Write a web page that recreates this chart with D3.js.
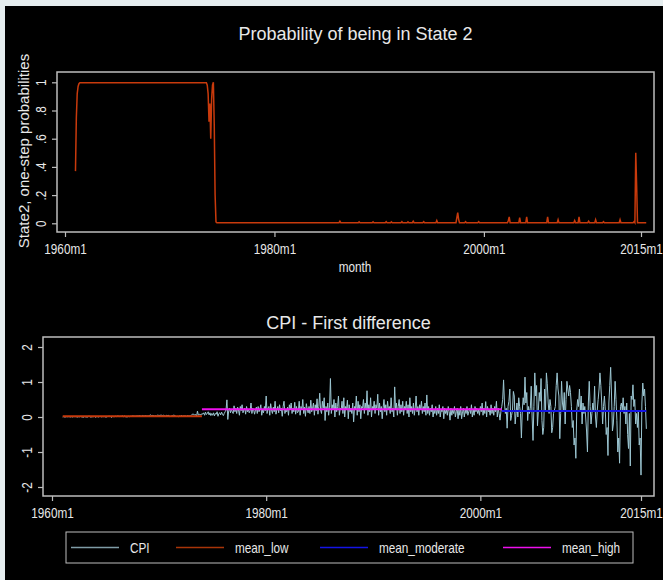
<!DOCTYPE html>
<html>
<head>
<meta charset="utf-8">
<script src="https://cdn.jsdelivr.net/npm/d3@7"></script>
<style>
  body { margin: 0; background: #e6eef0; }
  svg { display: block; }
  text { font-family: "Liberation Sans", Arial, sans-serif; fill: #e8e8e8; }
</style>
</head>
<body>
<div id="chart"></div>
<script>
// ---- data (months are Stata %tm strings) ----
const xTickDates = ["1960m1", "1980m1", "2000m1", "2015m1"];
const probTicks = [0, 0.2, 0.4, 0.6, 0.8, 1];
const probTickLabels = ["0", ".2", ".4", ".6", ".8", "1"];
const cpiTicks = [-2, -1, 0, 1, 2];

// probability of being in state 2 (vertices of the drawn line)
const probPoints = [
  ["1961m1", 0.37], ["1961m2", 0.75], ["1961m3", 0.92], ["1961m4", 0.97], ["1961m5", 0.99], ["1961m6", 0.997],
  ["1973m7", 0.997], ["1973m8", 0.98], ["1973m9", 0.92], ["1973m10", 0.72], ["1973m11", 0.85], ["1973m12", 0.60],
  ["1974m1", 0.88], ["1974m2", 0.98], ["1974m3", 1.0], ["1974m4", 0.70], ["1974m5", 0.20], ["1974m6", 0.01],
  ["1974m7", 0.004],
  ["1986m3", 0.004], ["1986m4", 0.015], ["1986m5", 0.004],
  ["1988m1", 0.004], ["1988m2", 0.010], ["1988m3", 0.004],
  ["1989m5", 0.004], ["1989m6", 0.010], ["1989m7", 0.004],
  ["1990m8", 0.004], ["1990m9", 0.012], ["1990m10", 0.004],
  ["1991m2", 0.004], ["1991m3", 0.010], ["1991m4", 0.004],
  ["1992m2", 0.004], ["1992m3", 0.012], ["1992m4", 0.004],
  ["1992m9", 0.004], ["1992m10", 0.010], ["1992m11", 0.004],
  ["1993m3", 0.004], ["1993m4", 0.015], ["1993m5", 0.004],
  ["1994m3", 0.004], ["1994m4", 0.012], ["1994m5", 0.004],
  ["1995m6", 0.004], ["1995m7", 0.020], ["1995m8", 0.004],
  ["1997m5", 0.004], ["1997m6", 0.040], ["1997m7", 0.075], ["1997m8", 0.030], ["1997m9", 0.004],
  ["1998m3", 0.004], ["1998m4", 0.012], ["1998m5", 0.004],
  ["1999m6", 0.004], ["1999m7", 0.012], ["1999m8", 0.004],
  ["2002m4", 0.004], ["2002m5", 0.020], ["2002m6", 0.045], ["2002m7", 0.004],
  ["2003m5", 0.004], ["2003m6", 0.040], ["2003m7", 0.004],
  ["2004m1", 0.004], ["2004m2", 0.045], ["2004m3", 0.004],
  ["2006m1", 0.004], ["2006m2", 0.045], ["2006m3", 0.004],
  ["2007m1", 0.004], ["2007m2", 0.025], ["2007m3", 0.004],
  ["2008m8", 0.004], ["2008m9", 0.020], ["2008m10", 0.004],
  ["2009m1", 0.004], ["2009m2", 0.045], ["2009m3", 0.004],
  ["2009m12", 0.004], ["2010m1", 0.015], ["2010m2", 0.004],
  ["2010m8", 0.004], ["2010m9", 0.025], ["2010m10", 0.004],
  ["2011m5", 0.004], ["2011m6", 0.012], ["2011m7", 0.004],
  ["2012m12", 0.004], ["2013m1", 0.025], ["2013m2", 0.004],
  ["2014m4", 0.004], ["2014m5", 0.012], ["2014m6", 0.004],
  ["2014m7", 0.50], ["2014m8", 0.27], ["2014m9", 0.004],
  ["2015m7", 0.004]
];

// CPI first difference, monthly from 1961m1 to 2015m7
const cpiStart = "1961m1";
const cpiDiff = [
  0.00, 0.01, 0.00, 0.00, 0.01, 0.00, 0.02, 0.00, 0.01, 0.00, 0.01, 0.00,   // 1961
  0.01, 0.01, 0.01, 0.01, 0.00, 0.00, 0.01, 0.00, 0.03, 0.00, 0.00, -0.01,  // 1962
  0.01, 0.01, 0.00, 0.00, 0.00, 0.02, 0.02, 0.00, 0.00, 0.01, 0.00, 0.02,   // 1963
  0.01, -0.01, 0.01, 0.01, 0.00, 0.01, 0.02, 0.00, 0.01, 0.01, 0.01, 0.01,  // 1964
  0.00, 0.00, 0.01, 0.02, 0.01, 0.03, 0.00, -0.01, 0.02, 0.01, 0.01, 0.02,  // 1965
  0.01, 0.03, 0.01, 0.03, 0.01, 0.02, 0.02, 0.03, 0.01, 0.03, 0.01, 0.01,   // 1966
  0.00, 0.01, 0.02, 0.01, 0.02, 0.02, 0.03, 0.03, 0.02, 0.03, 0.02, 0.03,   // 1967
  0.03, 0.03, 0.04, 0.03, 0.02, 0.04, 0.03, 0.03, 0.03, 0.04, 0.03, 0.03,   // 1968
  0.03, 0.04, 0.06, 0.05, 0.03, 0.05, 0.04, 0.03, 0.04, 0.03, 0.05, 0.05,   // 1969
  0.04, 0.05, 0.05, 0.05, 0.04, 0.05, 0.04, 0.02, 0.05, 0.04, 0.04, 0.05,   // 1970
  0.01, 0.02, 0.03, 0.04, 0.05, 0.05, 0.03, 0.02, 0.01, 0.02, 0.01, 0.03,   // 1971
  0.02, 0.05, 0.02, 0.03, 0.03, 0.03, 0.03, 0.02, 0.04, 0.03, 0.03, 0.03,   // 1972
  0.05, 0.07, 0.09, 0.07, 0.06, 0.07, 0.02, 0.17, 0.05, 0.08, 0.07, 0.06,   // 1973
  0.10, 0.08, 0.12, 0.05, 0.14, 0.07, 0.10, 0.15, 0.06, 0.12, 0.04, 0.10,   // 1974
  0.05, 0.12, 0.03, 0.10, 0.08, 0.15, 0.02, 0.10, 0.12, 0.06, 0.14, 0.08,   // 1975
  0.04, 0.10, 0.15, 0.20, 0.49, -0.07, 0.18, 0.25, 0.12, 0.22, 0.15, 0.10,  // 1976
  0.32, 0.15, 0.25, 0.10, 0.28, 0.20, 0.05, 0.30, 0.18, 0.35, 0.12, 0.20,   // 1977
  0.25, 0.08, 0.30, 0.15, 0.22, 0.12, 0.18, 0.40, 0.10, 0.25, 0.20, 0.08,   // 1978
  0.20, 0.28, 0.10, 0.30, 0.15, 0.22, 0.35, 0.05, 0.20, 0.12, 0.30, 0.18,   // 1979
  0.60, 0.10, 0.25, 0.30, 0.05, 0.38, 0.20, 0.10, 0.28, 0.15, 0.45, 0.08,   // 1980
  0.22, 0.30, 0.12, 0.35, 0.18, 0.25, 0.02, 0.30, 0.45, 0.10, 0.20, 0.15,   // 1981
  0.28, 0.05, 0.35, 0.20, 0.40, 0.10, 0.25, 0.15, 0.42, 0.08, 0.30, 0.12,   // 1982
  0.15, 0.45, 0.05, 0.30, 0.20, 0.50, 0.10, 0.28, 0.02, 0.38, 0.22, 0.12,   // 1983
  0.30, 0.10, 0.48, 0.15, 0.25, 0.40, 0.05, 0.35, 0.18, 0.52, 0.08, 0.30,   // 1984
  0.68, 0.20, 0.10, 0.45, 0.25, 0.55, -0.10, 0.30, 0.15, 0.40, 0.05, 0.28,  // 1985
  1.10, 0.10, 0.35, 0.20, 0.50, 0.00, 0.40, 0.15, 0.30, 0.60, 0.05, 0.25,   // 1986
  0.20, 0.45, 0.10, 0.55, 0.00, 0.30, 0.20, 0.48, -0.05, 0.35, 0.15, 0.25,  // 1987
  0.10, 0.40, -0.14, 0.30, 0.20, 0.60, 0.05, 0.45, 0.15, 0.35, -0.05, 0.30, // 1988
  0.25, 0.50, 0.10, 0.40, 0.20, 0.75, 0.05, 0.35, 0.15, 0.55, 0.00, 0.30,   // 1989
  0.20, 0.45, 0.10, 0.35, 0.25, 0.65, 0.05, 0.40, 0.15, 0.30, -0.05, 0.25,  // 1990
  0.50, 0.15, 0.35, 0.05, 0.45, 0.20, 0.30, 0.10, 0.55, 0.15, 0.25, 0.00,   // 1991
  0.86, 0.20, 0.40, 0.05, 0.30, 0.50, 0.10, 0.35, 0.15, 0.45, 0.05, 0.30,   // 1992
  0.20, 0.45, 0.10, 0.35, 0.00, 0.55, 0.15, 0.30, 0.10, 0.40, 0.05, 0.25,   // 1993
  0.60, 0.15, 0.30, 0.05, 0.35, 0.20, 0.45, 0.10, 0.30, 0.15, 0.40, 0.05,   // 1994
  0.63, 0.10, 0.30, 0.05, 0.25, 0.15, 0.35, 0.00, 0.20, 0.10, 0.30, 0.05,   // 1995
  0.25, 0.10, 0.35, 0.00, 0.20, 0.15, 0.30, -0.05, 0.25, 0.10, 0.20, 0.05,  // 1996
  0.30, 0.15, -0.09, 0.25, 0.05, 0.20, 0.10, 0.30, 0.00, 0.15, 0.25, -0.05, // 1997
  0.20, 0.05, 0.30, -0.05, 0.15, 0.25, 0.00, 0.20, 0.10, 0.30, 0.05, 0.15,  // 1998
  0.25, 0.10, 0.35, 0.00, 0.20, 0.05, 0.30, 0.15, 0.25, 0.10, 0.20, 0.05,   // 1999
  0.30, 0.15, 0.40, 0.05, 0.25, 0.10, 0.44, 0.00, 0.30, 0.15, 0.20, 0.05,   // 2000
  0.35, 0.10, 0.25, 0.05, 0.30, 0.15, 0.45, 0.00, 0.25, 0.10, -0.09, 0.15,  // 2001
  0.30, 0.50, 1.06, 0.40, 0.10, 0.25, -0.32, 0.30, 0.45, 0.80, -0.10, 0.05, // 2002
  0.20, 0.73, 0.60, -0.20, 0.10, 0.40, 0.00, 0.55, 0.30, 0.10, -0.60, 0.20, // 2003
  0.55, 0.35, 1.14, 0.40, 0.70, -0.10, 0.30, 0.10, 0.25, 0.88, 0.00, -0.67, // 2004
  0.30, 1.26, 0.60, 0.90, -0.25, 0.20, 0.70, 0.45, 1.10, -0.10, -0.50, -0.30, // 2005
  0.80, 0.20, 1.26, 0.95, 0.40, 0.10, 0.50, 0.30, -0.45, -0.30, 0.10, 0.20, // 2006
  0.30, 0.90, 1.26, 0.80, 0.60, -0.62, 0.10, 1.02, 0.40, 0.20, 0.70, -0.20, // 2007
  0.50, 1.02, 0.80, 0.60, 0.90, 0.70, 0.30, -0.30, -0.10, -0.80, -0.60, -1.18, // 2008
  0.20, 0.50, 0.30, 0.80, 0.20, 0.60, -0.20, 0.40, 0.10, 0.30, 0.00, -0.40, // 2009
  -1.00, 0.40, 1.02, 0.30, -0.20, 0.10, 0.40, 0.20, 0.88, 0.00, -0.30, 0.20, // 2010
  0.50, 0.80, 1.26, 0.90, 0.40, -0.20, 0.30, 0.60, 0.20, -0.50, -0.30, -1.10, // 2011
  0.40, 0.90, 1.42, 0.60, -0.40, -0.20, 0.30, 1.02, 0.50, -0.10, -1.00, -0.60, // 2012
  -1.32, 0.30, 0.40, 0.20, 0.55, 0.10, 0.30, -0.20, 0.40, -0.50, -0.90, 0.10, // 2013
  -1.40, 0.60, 0.50, 0.92, 0.30, 0.50, -0.20, 0.10, -0.30, 0.20, -0.80, -0.60, // 2014
  -1.66, 0.40, 0.97, 0.60, 0.80, 0.30, -0.34                                // 2015
];

// regime means: [from, to, value]
const meanLow = ["1961m1", "1974m1", 0.02];
const meanHigh = ["1974m1", "2002m1", 0.22];
const meanModerate = ["2002m1", "2015m7", 0.17];

const legendLabels = ["CPI", "mean_low", "mean_moderate", "mean_high"];

// ---- drawing ----
const W = 663, H = 580;
const colCPI = "#9cc6d2", colLow = "#c83a0c", colMod = "#1414e6", colHigh = "#ee10ee";
const axisCol = "#bdbdbd";
const narrow = 0.84; // Stata's labels are set narrower than plain Arial

const toMonth = s => { const [y, m] = s.split("m").map(Number); return (y - 1960) * 12 + m - 1; };
const xTickMonths = xTickDates.map(toMonth);

const svg = d3.select("#chart").append("svg").attr("width", W).attr("height", H);
svg.append("rect").attr("width", W).attr("height", H).attr("fill", "#e6eef0");
svg.append("rect").attr("x", 5).attr("y", 6).attr("width", W - 5).attr("height", H - 6).attr("fill", "#000");

function styleAxis(g) {
  g.select(".domain").remove();
  g.selectAll(".tick line").attr("stroke", axisCol).attr("stroke-width", 1.2);
  g.selectAll(".tick text").attr("fill", "#e8e8e8").style("font-size", "14px");
}

function drawPanel(o) {
  svg.append("rect").attr("x", o.box[0]).attr("y", o.box[1])
    .attr("width", o.box[2] - o.box[0]).attr("height", o.box[3] - o.box[1])
    .attr("fill", "none").attr("stroke", axisCol).attr("stroke-width", 1.5);

  svg.append("g").attr("transform", `translate(0,${o.box[3]})`)
    .call(d3.axisBottom(o.x).tickValues(xTickMonths).tickFormat((d, i) => xTickDates[i]).tickSize(5).tickPadding(7))
    .call(styleAxis)
    .call(g => g.selectAll(".tick text").attr("transform", `scale(${narrow},1)`));

  svg.append("g").attr("transform", `translate(${o.box[0]},0)`)
    .call(d3.axisLeft(o.y).tickValues(o.yTicks).tickFormat((d, i) => o.yLabels[i]).tickSize(5))
    .call(styleAxis)
    .call(g => g.selectAll(".tick text")
      .attr("transform", `rotate(-90) scale(${narrow},1)`).attr("x", 0).attr("y", -11).attr("dy", 0)
      .attr("text-anchor", "middle"));

  svg.append("text").attr("x", (o.box[0] + o.box[2]) / 2).attr("y", o.titleY)
    .attr("text-anchor", "middle").style("font-size", "18px").attr("fill", "#f2f2f2").text(o.title);
}

// top panel
const xTop = d3.scaleLinear().domain([0, 660]).range([65, 641]);
const yTop = d3.scaleLinear().domain([0, 1]).range([223.3, 82.3]);
drawPanel({ box: [57, 72, 654, 232], x: xTop, y: yTop, yTicks: probTicks, yLabels: probTickLabels,
  title: "Probability of being in State 2", titleY: 40 });

svg.append("text").attr("transform", "translate(29,151) rotate(-90)").attr("text-anchor", "middle")
  .style("font-size", "15px").text("State2, one-step probabilities");
svg.append("text").attr("transform", `translate(355,272) scale(${narrow},1)`).attr("text-anchor", "middle")
  .style("font-size", "14px").text("month");

const probLine = d3.line().x(d => xTop(toMonth(d[0]))).y(d => yTop(d[1]));
svg.append("path").datum(probPoints).attr("d", probLine)
  .attr("fill", "none").attr("stroke", colLow).attr("stroke-width", 1.5);

// bottom panel
const xBot = d3.scaleLinear().domain([0, 660]).range([52, 641]);
const yBot = d3.scaleLinear().domain([-2, 2]).range([487, 347]);
drawPanel({ box: [43, 337, 654, 496], x: xBot, y: yBot, yTicks: cpiTicks, yLabels: cpiTicks.map(String),
  title: "CPI - First difference", titleY: 329 });

const m0 = toMonth(cpiStart);
const cpiLine = d3.line().x((d, i) => xBot(m0 + i)).y(d => yBot(d));
svg.append("path").datum(cpiDiff).attr("d", cpiLine)
  .attr("fill", "none").attr("stroke", colCPI).attr("stroke-width", 1);

const meanLine = d3.line().x(d => xBot(toMonth(d[0]))).y(d => yBot(d[1]));
[[meanLow, colLow], [meanModerate, colMod], [meanHigh, colHigh]].forEach(([m, c]) => {
  svg.append("path").datum([[m[0], m[2]], [m[1], m[2]]]).attr("d", meanLine)
    .attr("fill", "none").attr("stroke", c).attr("stroke-width", 2);
});

// legend
const legend = svg.append("g");
legend.append("rect").attr("x", 66).attr("y", 532).attr("width", 567).attr("height", 31)
  .attr("fill", "#000").attr("stroke", axisCol).attr("stroke-width", 1);
const legendX = [71, 176, 320, 503];
const legendCols = ["#7f9ca6", "#a83408", "#1414e6", "#ee10ee"];
legendLabels.forEach((lab, i) => {
  legend.append("line").attr("x1", legendX[i]).attr("x2", legendX[i] + 48)
    .attr("y1", 547.5).attr("y2", 547.5).attr("stroke", legendCols[i]).attr("stroke-width", 1.5);
  legend.append("text").attr("transform", `translate(${legendX[i] + 59},553) scale(${narrow},1)`)
    .style("font-size", "14px").text(lab);
});
</script>
</body>
</html>
